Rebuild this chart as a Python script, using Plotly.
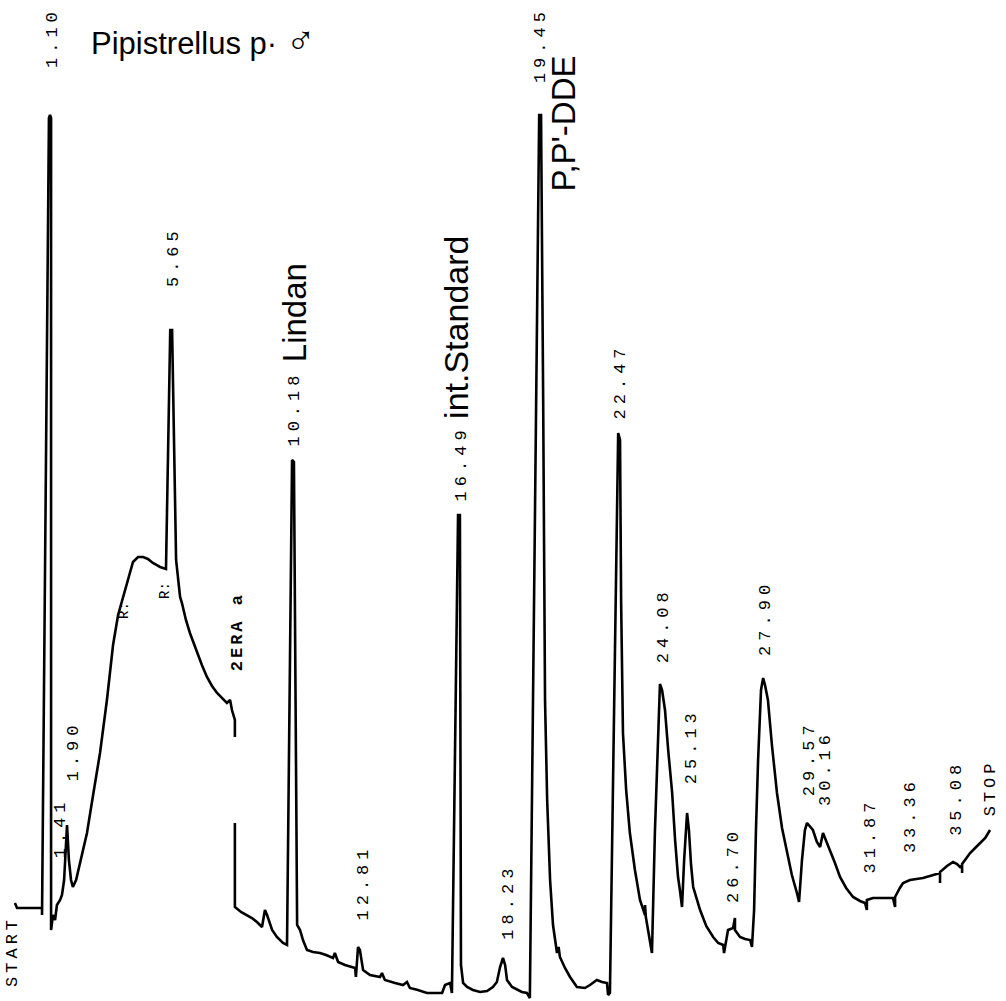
import plotly.graph_objects as go

# Chromatogram trace: retention time (min) and detector response
time = [-0.22, -0.14, 0.80, 0.80, 1.06, 1.10, 1.14, 1.14, 1.21, 1.29, 1.36, 1.48, 1.55, 1.63, 1.74, 1.81, 1.89, 1.96,
        2.08, 2.23, 2.49, 2.72, 2.98, 3.24, 3.47, 3.66, 3.84, 4.03, 4.22, 4.41, 4.60, 4.78, 4.97, 5.24, 5.46, 5.62,
        5.69, 5.84, 5.99, 6.06, 6.21, 6.36, 6.63, 6.81, 7.00, 7.19, 7.38, 7.57, 7.75, 7.87, 7.94, 8.05, 8.05, None,
        8.05, 8.05, 8.28, 8.51, 8.69, 8.88, 9.07, 9.18, 9.26, 9.45, 9.63, 9.86, 10.01, 10.20, 10.27, 10.39, 10.50,
        10.61, 10.76, 10.99, 11.25, 11.48, 11.74, 11.81, 11.93, 12.19, 12.57, 12.60, 12.68, 12.75, 12.87, 13.13,
        13.51, 13.58, 13.69, 14.07, 14.37, 14.52, 14.63, 14.93, 15.27, 15.84, 15.95, 16.14, 16.21, 16.44, 16.51,
        16.55, 16.63, 16.78, 17.00, 17.27, 17.53, 17.75, 17.90, 18.02, 18.13, 18.21, 18.28, 18.47, 18.66, 18.84,
        19.03, 19.14, 19.49, 19.56, 19.64, 19.71, 19.79, 19.90, 20.01, 20.16, 20.22, 20.27, 20.46, 20.65, 20.91,
        21.21, 21.40, 21.66, 21.85, 22.04, 22.08, 22.15, 22.46, 22.53, 22.57, 22.64, 22.76, 22.90, 23.09, 23.28,
        23.47, 23.47, 23.50, 23.66, 23.73, 23.84, 23.96, 24.03, 24.11, 24.22, 24.34, 24.49, 24.60, 24.71, 24.78,
        24.86, 24.94, 25.05, 25.12, 25.20, 25.28, 25.54, 25.77, 26.03, 26.22, 26.41, 26.44, 26.59, 26.78, 26.85,
        26.85, 27.04, 27.23, 27.42, 27.49, 27.57, 27.64, 27.72, 27.83, 27.91, 27.98, 28.09, 28.24, 28.43, 28.62,
        28.81, 28.99, 29.18, 29.26, 29.37, 29.48, 29.56, 29.67, 29.78, 29.93, 30.05, 30.16, 30.27, 30.42, 30.61,
        30.80, 31.03, 31.29, 31.55, 31.74, 31.81, 31.81, 32.04, 32.31, 32.57, 32.79, 32.87, 32.87, 33.05, 33.17,
        33.43, 33.66, 33.92, 34.18, 34.45, 34.56, 34.56, 34.56, 34.82, 35.05, 35.20, 35.31, 35.39, 35.39, 35.39,
        35.50, 35.69, 35.88, 36.07, 36.26, 36.44]
signal = [2.2, 1.7, 1.7, 1.0, 80.7, 81.0, 80.7, -0.5, 1.0, 0.5, 2.0, 2.5, 3.0, 4.5, 10.0, 6.5, 4.5, 3.8,
          4.5, 6.3, 9.2, 13.0, 17.2, 22.5, 28.0, 31.0, 32.7, 34.5, 36.3, 36.8, 36.8, 36.6, 36.2, 35.8, 35.6, 59.5,
          59.5, 36.5, 32.8, 32.2, 30.5, 29.2, 27.2, 26.0, 24.8, 23.9, 23.2, 22.7, 22.2, 22.5, 21.5, 20.5, 18.8, None,
          10.2, 1.8, 1.3, 1.0, 0.7, 0.3, -0.2, 1.5, 1.0, -0.5, -1.2, -1.8, -2.0, 46.5, 46.3, 0.0, -0.5,
          -1.5, -2.5, -2.7, -2.8, -3.0, -3.3, -2.8, -3.7, -4.0, -4.3, -5.2, -2.2, -2.5, -4.5, -5.0,
          -5.2, -4.8, -5.5, -5.8, -6.0, -5.7, -6.3, -6.5, -6.8, -6.8, -6.0, -5.8, -6.8, 41.0, 41.0,
          -4.0, -5.8, -6.2, -6.5, -6.7, -6.6, -6.2, -5.7, -4.2, -3.3, -4.0, -5.5, -6.2, -6.5, -6.7,
          -6.8, -7.3, 81.0, 81.0, 52.5, 22.5, 12.5, 4.5, 0.0, -2.8, -2.2, -3.2, -4.3, -5.2, -6.2,
          -6.3, -6.0, -5.5, -5.7, -5.8, -7.0, -6.8, 49.2, 48.5, 32.5, 19.2, 13.5, 9.2, 5.5, 2.5,
          1.0, 2.0, 0.8, -1.8, -2.8, 9.2, 19.5, 24.1, 23.5, 21.5, 17.5, 13.2, 8.5, 4.8, 3.5,
          1.8, 6.5, 11.2, 9.5, 6.0, 3.8, 1.5, -0.1, -1.2, -1.8, -2.0, -2.8, -0.5, -0.3, 0.7,
          -0.5, -1.2, -1.4, -1.5, -2.2, 1.5, 9.5, 16.5, 23.5, 24.7, 24.0, 22.5, 18.0, 13.2, 9.7,
          7.2, 5.0, 3.2, 2.3, 6.5, 9.5, 10.2, 9.9, 9.5, 8.3, 7.8, 9.2, 8.5, 7.5, 6.2,
          4.8, 3.7, 2.8, 2.4, 2.2, 1.5, 2.5, 2.7, 2.7, 2.7, 2.7, 1.8, 2.8, 3.7, 4.2,
          4.5, 4.6, 4.7, 4.9, 5.1, 5.2, 4.2, 5.3, 5.9, 6.3, 6.1, 5.8, 5.9, 5.2, 6.1,
          6.5, 7.2, 7.7, 8.2, 8.7, 9.5]

# Retention-time labels printed by the integrator
rt_labels = ["1.10", "1.41", "1.90", "5.65", "10.18", "12.81", "16.49", "18.23", "19.45", "22.47",
             "24.08", "25.13", "26.70", "27.90", "29.57", "30.16", "31.87", "33.36", "35.08"]
rt_label_level = [88.7, 9.7, 17.4, 66.8, 51.6, 4.3, 46.2, 2.3, 88.0, 54.4,
                  30.0, 17.9, 6.0, 30.7, 16.7, 15.7, 9.0, 11.0, 12.7]

# Compound names
compound_names = ["Lindan", "int.Standard", "P,P'-DDE"]
compound_time = [10.28, 16.36, 20.40]
compound_level = [61.2, 59.8, 80.2]

fig = go.Figure()
fig.add_trace(go.Scatter(x=time, y=signal, mode="lines", connectgaps=False,
                         line=dict(color="black", width=2.6), hoverinfo="skip"))

mono = "Liberation Mono, DejaVu Sans Mono, monospace"
sans = "Liberation Sans, Arial, sans-serif"

for txt, lvl in zip(rt_labels, rt_label_level):
    fig.add_annotation(x=float(txt), y=lvl, xshift=2,
                       text="<span style='letter-spacing:5px'>%s</span>" % txt,
                       textangle=-90, showarrow=False, xanchor="center", yanchor="middle",
                       font=dict(family=mono, size=17, color="black"))

sizes = [33, 34, 33]
for name, t, lvl, sz in zip(compound_names, compound_time, compound_level, sizes):
    fig.add_annotation(x=t, y=lvl, text=name, textangle=-90, showarrow=False,
                       xanchor="center", yanchor="middle",
                       font=dict(family=sans, size=sz, color="black"))

# START / STOP and other printer marks
fig.add_annotation(x=-0.33, y=-2.6, text="<span style='letter-spacing:4px'>START</span>", textangle=-90,
                   showarrow=False, font=dict(family=mono, size=17, color="black"))
fig.add_annotation(x=36.45, y=13.7, text="<span style='letter-spacing:4px'>STOP</span>", textangle=-90,
                   showarrow=False, font=dict(family=mono, size=17, color="black"))
fig.add_annotation(x=8.14, y=29.3, text="<b><span style='letter-spacing:3px'>2ERA a</span></b>", textangle=-90,
                   showarrow=False, font=dict(family=mono, size=17, color="black"))
fig.add_annotation(x=3.88, y=31.5, text="R:", textangle=-90, showarrow=False,
                   font=dict(family=mono, size=14, color="black"))
fig.add_annotation(x=5.42, y=33.5, text="R:", textangle=-90, showarrow=False,
                   font=dict(family=mono, size=14, color="black"))

# Title
fig.add_annotation(x=2.58, y=88.5, text="Pipistrellus p· <span style='font-size:40px'>♂</span>",
                   showarrow=False, xanchor="left", yanchor="middle",
                   font=dict(family=sans, size=31, color="black"))

fig.update_layout(
    width=1006, height=1001,
    margin=dict(l=0, r=0, t=0, b=0),
    paper_bgcolor="white", plot_bgcolor="white",
    showlegend=False,
    xaxis=dict(range=[-0.78, 37.04], visible=False, fixedrange=True),
    yaxis=dict(range=[-7.6, 92.5], visible=False, fixedrange=True),
)

fig.write_html("out.html", config={"displayModeBar": False},
               post_script="document.body.style.margin='0';document.body.style.overflow='hidden';")
